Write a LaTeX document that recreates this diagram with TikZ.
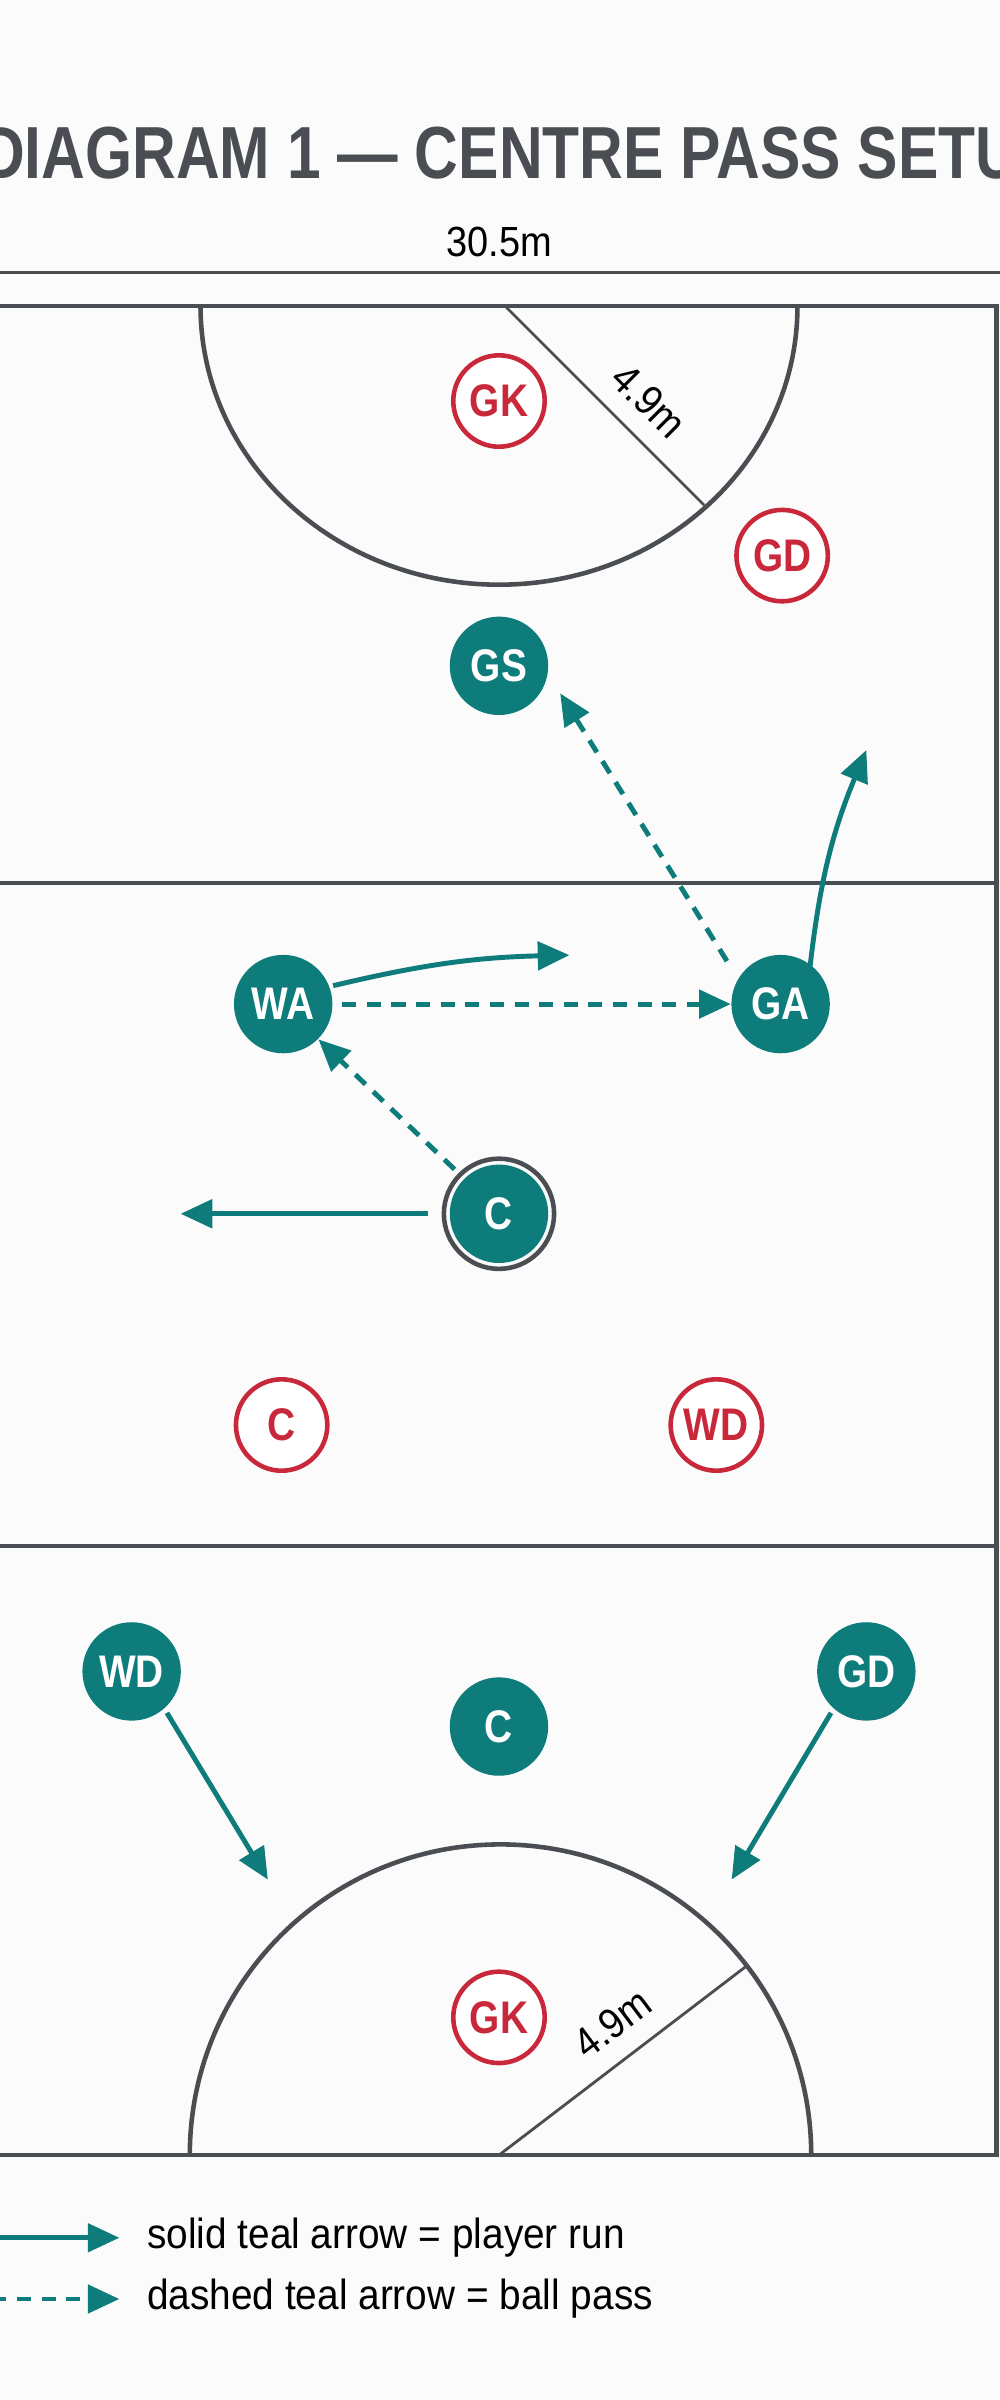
\documentclass[tikz,border=0pt]{standalone}
\usepackage{fontspec}
\setmainfont{Liberation Sans}
\usetikzlibrary{arrows.meta}
\definecolor{teal}{HTML}{0E7C7B}
\definecolor{rd}{HTML}{C8283A}
\definecolor{ln}{HTML}{4A4D52}
\begin{document}
\begin{tikzpicture}[x=0.01531cm,y=-0.01531cm,
  red/.style={circle,draw=rd,line width=1.3pt,fill=white,minimum size=26pt,inner sep=0pt,text=rd,font=\fontsize{13}{13}\selectfont\bfseries},
  tl/.style={circle,fill=teal,minimum size=28pt,inner sep=0pt,text=white,font=\fontsize{13}{13}\selectfont\bfseries},
  run/.style={teal,line width=1.4pt,-{Triangle[length=9pt,width=8pt]}},
  pass/.style={run,dash pattern=on 4pt off 3pt},
  court/.style={ln,line width=1.3pt}]
\useasboundingbox (0,0) rectangle (653,1568);
\fill[white!97!gray] (0,0) rectangle (653,1568);
\node[ln,font=\fontsize{21}{21}\selectfont\bfseries] (title) at (340,100) {\scalebox{0.82}[1]{DIAGRAM 1 — CENTRE PASS SETUP}};
\node[font=\fontsize{12}{12}\selectfont] (w) at (326,158) {\scalebox{0.9}[1]{30.5m}};
\draw[ln,line width=0.8pt] (0,178) -- (653,178);
\draw[court] (-5,200) rectangle (651,1408);
\draw[court] (-5,577) -- (651,577);
\draw[court] (-5,1010) -- (651,1010);
\draw[court] (131,200) arc[start angle=180,end angle=360,x radius=195,y radius=-182];
\draw[ln,line width=0.8pt] (330,200) -- (460,330);
\node[rotate=-45,font=\fontsize{12}{12}\selectfont] (d1) at (424,262) {\scalebox{0.9}[1]{4.9m}};
\draw[court] (124,1408) arc[start angle=180,end angle=0,x radius=203,y radius=-203];
\draw[ln,line width=0.8pt] (326,1408) -- (487,1285);
\node[rotate=37,font=\fontsize{12}{12}\selectfont] (d2) at (400,1322) {\scalebox{0.9}[1]{4.9m}};
\node[red] (gk1) at (326,262) {\scalebox{0.85}[1]{GK}};
\node[red] (gd1) at (511,363) {\scalebox{0.85}[1]{GD}};
\node[red] (c1) at (184,931) {\scalebox{0.85}[1]{C}};
\node[red] (wd1) at (468,931) {\scalebox{0.85}[1]{WD}};
\node[red] (gk2) at (326,1318) {\scalebox{0.85}[1]{GK}};
\node[tl] (gs) at (326,435) {\scalebox{0.85}[1]{GS}};
\node[tl] (wa) at (185,656) {\scalebox{0.85}[1]{WA}};
\node[tl] (ga) at (510,656) {\scalebox{0.85}[1]{GA}};
\draw[ln,line width=1.3pt] (326,793) circle[radius=36];
\node[tl] (c) at (326,793) {\scalebox{0.85}[1]{C}};
\node[tl] (wd) at (86,1092) {\scalebox{0.85}[1]{WD}};
\node[tl] (c2) at (326,1128) {\scalebox{0.85}[1]{C}};
\node[tl] (gd) at (566,1092) {\scalebox{0.85}[1]{GD}};
\coordinate (e1) at (366,453);
\coordinate (e2) at (566,490);
\coordinate (e3) at (372,624);
\coordinate (e5) at (118,793);
\coordinate (e6) at (175,1228);
\coordinate (e7) at (478,1228);
\draw[pass] (ga.north west)++(-12,-5) -- (e1);
\draw[run] (ga.north east)++(-4,0) to[bend left=8] (e2);
\draw[run] (wa.east)++(0,-12) to[bend left=6] (e3);
\draw[pass] (wa.east)++(6,0) -- (ga.west);
\draw[pass] (c.north west)++(-6,-6) -- (wa.south east);
\draw[run] (c.west)++(-14,0) -- (e5);
\draw[run] (wd.south east)++(0,4) -- (e6);
\draw[run] (gd.south west)++(0,4) -- (e7);
\coordinate (l1) at (-5,1462); \coordinate (l2) at (78,1462);
\coordinate (l3) at (-5,1502); \coordinate (l4) at (78,1502);
\draw[run] (l1) -- (l2);
\draw[pass] (l3) -- (l4);
\node[anchor=west,font=\fontsize{12}{12}\selectfont] (t1) at (88,1462) {\scalebox{0.92}[1]{solid teal arrow = player run}};
\node[anchor=west,font=\fontsize{12}{12}\selectfont] (t2) at (88,1502) {\scalebox{0.92}[1]{dashed teal arrow = ball pass}};
\end{tikzpicture}
\end{document}
